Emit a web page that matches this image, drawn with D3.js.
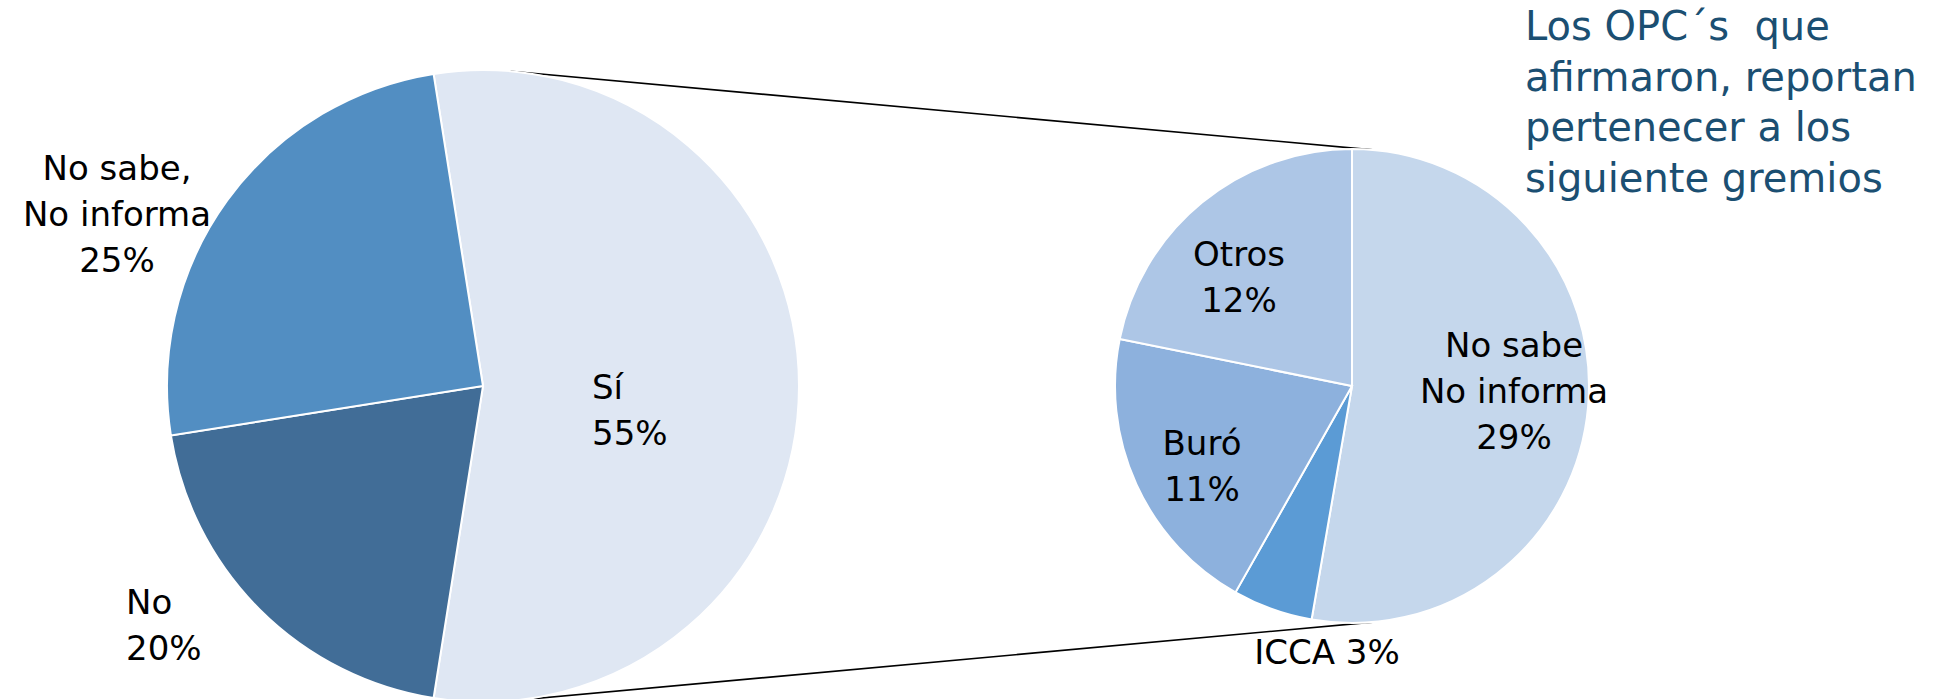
<!DOCTYPE html>
<html>
<head>
<meta charset="utf-8">
<script src="https://cdn.jsdelivr.net/npm/d3@7"></script>
<style>
  body { margin: 0; background: #fff; }
  text { font-family: "DejaVu Sans", sans-serif; }
</style>
</head>
<body>
<div id="chart-area"></div>
<script>
const WIDTH = 1934
const HEIGHT = 699

// Main pie
const mainCategories = ["Sí", "No", "No sabe, No informa"]
const mainValues = [55, 20, 25]
const mainColors = ["#DFE7F3", "#416D97", "#528EC2"]

// Secondary pie (breakdown of "Sí")
const subCategories = ["No sabe No informa", "ICCA", "Buró", "Otros"]
const subValues = [29, 3, 11, 12]
const subColors = ["#C5D7EC", "#5B9BD5", "#8DB1DD", "#ADC6E6"]

const titleLines = ["Los OPC´s  que", "afirmaron, reportan", "pertenecer a los", "siguiente gremios"]

const MAIN = { cx: 483, cy: 386, r: 316 }
const SUB = { cx: 1352, cy: 386, r: 237 }

const svg = d3.select("#chart-area").append("svg")
  .attr("width", WIDTH)
  .attr("height", HEIGHT)

const deg = Math.PI / 180

// main pie: "Sí" centred on the right side
const mainSpan = mainValues[0] / d3.sum(mainValues) * 2 * Math.PI
const mainStart = Math.PI / 2 - mainSpan / 2
const pieMain = d3.pie().sort(null).value(d => d)
  .startAngle(mainStart).endAngle(mainStart + 2 * Math.PI)
const pieSub = d3.pie().sort(null).value(d => d)

const arcMain = d3.arc().innerRadius(0).outerRadius(MAIN.r)
const arcSub = d3.arc().innerRadius(0).outerRadius(SUB.r)

// connector lines
const polar = (p, a) => [p.cx + p.r * Math.sin(a), p.cy - p.r * Math.cos(a)]
const connectors = [[5 * deg, 5 * deg], [175 * deg, 175 * deg]]
svg.selectAll("line.conn")
  .data(connectors)
  .enter().append("line")
    .attr("class", "conn")
    .attr("x1", d => polar(MAIN, d[0])[0])
    .attr("y1", d => polar(MAIN, d[0])[1])
    .attr("x2", d => polar(SUB, d[1])[0])
    .attr("y2", d => polar(SUB, d[1])[1])
    .attr("stroke", "#000")
    .attr("stroke-width", 1.6)

const gMain = svg.append("g")
  .attr("transform", `translate(${MAIN.cx}, ${MAIN.cy})`)
gMain.selectAll("path")
  .data(pieMain(mainValues))
  .enter().append("path")
    .attr("d", arcMain)
    .attr("fill", (d, i) => mainColors[i])
    .attr("stroke", "#fff")
    .attr("stroke-width", 2)

const gSub = svg.append("g")
  .attr("transform", `translate(${SUB.cx}, ${SUB.cy})`)
gSub.selectAll("path")
  .data(pieSub(subValues))
  .enter().append("path")
    .attr("d", arcSub)
    .attr("fill", (d, i) => subColors[i])
    .attr("stroke", "#fff")
    .attr("stroke-width", 2)

// data labels (offsets from pie centre, baseline of first line)
const mainLabels = [
  { lines: ["Sí", mainValues[0] + "%"], dx: 109, dy: 13, anchor: "start" },
  { lines: ["No", mainValues[1] + "%"], dx: -357, dy: 228, anchor: "start" },
  { lines: ["No sabe,", "No informa", mainValues[2] + "%"], dx: -366, dy: -206, anchor: "middle" }
]
const subLabels = [
  { lines: ["No sabe", "No informa", subValues[0] + "%"], dx: 162, dy: -29, anchor: "middle" },
  { lines: ["ICCA " + subValues[1] + "%"], dx: -25, dy: 278, anchor: "middle" },
  { lines: ["Buró", subValues[2] + "%"], dx: -150, dy: 69, anchor: "middle" },
  { lines: ["Otros", subValues[3] + "%"], dx: -113, dy: -120, anchor: "middle" }
]

function drawLabels(g, labels) {
  labels.forEach(l => {
    const t = g.append("text")
      .attr("x", l.dx)
      .attr("y", l.dy)
      .attr("text-anchor", l.anchor)
      .attr("font-size", "34px")
      .attr("fill", "#000")
    l.lines.forEach((s, i) => {
      t.append("tspan")
        .attr("x", l.dx)
        .attr("dy", i === 0 ? 0 : 46)
        .text(s)
    })
  })
}
drawLabels(gMain, mainLabels)
drawLabels(gSub, subLabels)

// title text
svg.append("text")
  .attr("x", 1525)
  .attr("y", 40)
  .attr("font-size", "40px")
  .attr("fill", "#1B4F72")
  .style("white-space", "pre")
  .selectAll("tspan")
  .data(titleLines)
  .enter().append("tspan")
    .attr("x", 1525)
    .attr("dy", (d, i) => i === 0 ? 0 : 50.5)
    .text(d => d)
</script>
</body>
</html>
